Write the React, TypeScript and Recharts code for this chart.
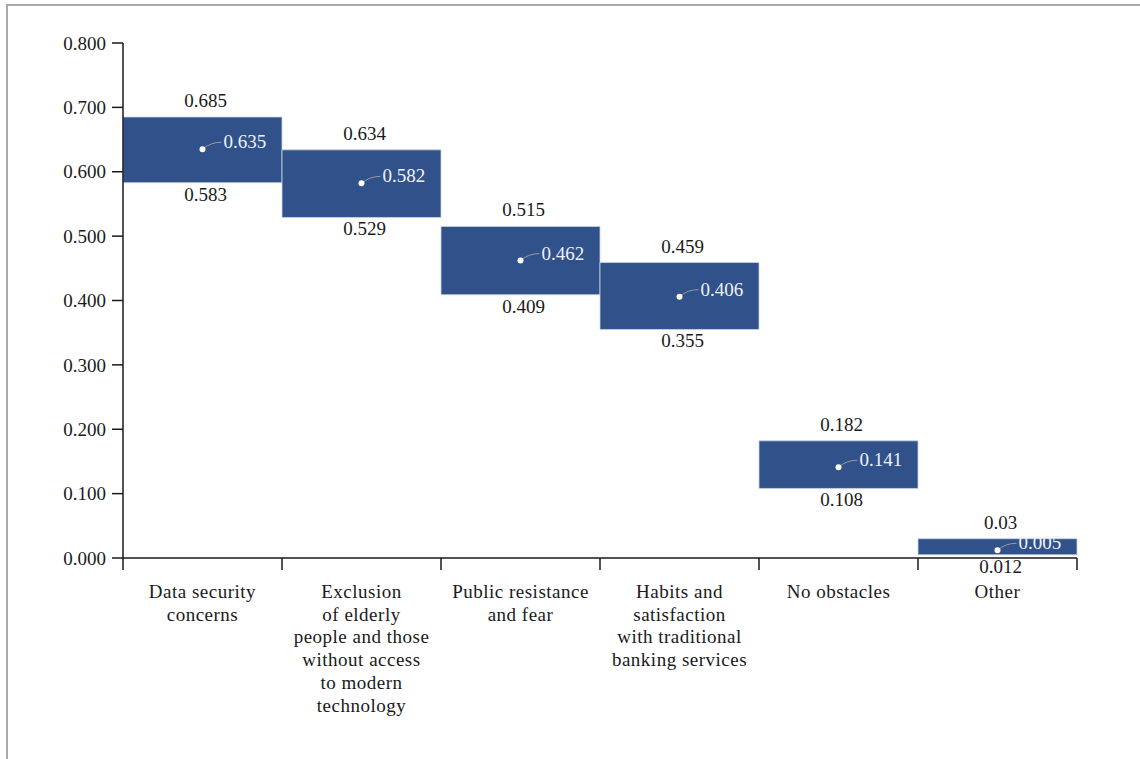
import { ComposedChart, Bar, Scatter, XAxis, YAxis, LabelList } from 'recharts'

// obstacle categories (wrapped as in the source)
const categories = [
  ['Data security', 'concerns'],
  ['Exclusion', 'of elderly', 'people and those', 'without access', 'to modern', 'technology'],
  ['Public resistance', 'and fear'],
  ['Habits and', 'satisfaction', 'with traditional', 'banking services'],
  ['No obstacles'],
  ['Other'],
]

const lowValues = [0.583, 0.529, 0.409, 0.355, 0.108, 0.005]
const midValues = [0.635, 0.582, 0.462, 0.406, 0.141, 0.012]
const highValues = [0.685, 0.634, 0.515, 0.459, 0.182, 0.03]

// printed labels (the "Other" column prints them as in the source)
const topLabels = ['0.685', '0.634', '0.515', '0.459', '0.182', '0.03']
const midLabels = ['0.635', '0.582', '0.462', '0.406', '0.141', '0.005']
const bottomLabels = ['0.583', '0.529', '0.409', '0.355', '0.108', '0.012']

const yTicks = [0, 0.1, 0.2, 0.3, 0.4, 0.5, 0.6, 0.7, 0.8]

const W = 1140
const H = 759
const MARGIN = { top: 43, right: 63, bottom: 0, left: 63 }
const Y_AXIS_W = 60
const HALF_BAND = (W - MARGIN.left - Y_AXIS_W - MARGIN.right) / categories.length / 2

const FONT = '"Liberation Serif", "Times New Roman", serif'
const FS = 19
const BAR_FILL = '#31518a'
const TEXT = '#1a1a1a'

const data = categories.map((c, i) => ({
  name: c.join(' '),
  lines: c,
  range: [lowValues[i], highValues[i]],
  mid: midValues[i],
}))

const TopLabel = (props: any) => {
  const { x, y, width, height, index } = props
  const top = Math.min(y, y + height)
  return (
    <text x={x + width / 2 + 3} y={top - 10} textAnchor="middle" fontFamily={FONT} fontSize={FS} fill={TEXT}>
      {topLabels[index]}
    </text>
  )
}

const BottomLabel = (props: any) => {
  const { x, y, width, height, index } = props
  const bottom = Math.max(y, y + height)
  return (
    <text x={x + width / 2 + 3} y={bottom + 18} textAnchor="middle" fontFamily={FONT} fontSize={FS} fill={TEXT}>
      {bottomLabels[index]}
    </text>
  )
}

const MidDot = (props: any) => {
  const { cx, cy, index } = props
  if (cx == null || cy == null) return <g />
  return (
    <g>
      <path
        d={`M${cx} ${cy} Q${cx + 8} ${cy - 7} ${cx + 19} ${cy - 7}`}
        fill="none"
        stroke="#9a9a9a"
        strokeWidth={1}
      />
      <circle cx={cx} cy={cy} r={3} fill="#ffffff" />
      <text x={cx + 21} y={cy - 1} fontFamily={FONT} fontSize={FS} fill="#eef2f8">
        {midLabels[index]}
      </text>
    </g>
  )
}

const CategoryTick = (props: any) => {
  const { x, y, payload, index } = props
  const half = payload?.offset > 0 ? payload.offset : HALF_BAND
  const lines = categories[index] ?? [String(payload.value)]
  return (
    <g>
      <line x1={x - half} y1={y} x2={x - half} y2={y + 12} stroke={TEXT} strokeWidth={1.5} />
      {index === categories.length - 1 && (
        <line x1={x + half} y1={y} x2={x + half} y2={y + 12} stroke={TEXT} strokeWidth={1.5} />
      )}
      <text textAnchor="middle" fontFamily={FONT} fontSize={FS} fill={TEXT} letterSpacing={0.5}>
        {lines.map((l: string, i: number) => (
          <tspan key={i} x={x} y={y + 40 + i * 22.7}>
            {l}
          </tspan>
        ))}
      </text>
    </g>
  )
}

export default function App() {
  return (
    <div style={{ position: 'fixed', left: 0, top: 0, width: W, height: H, background: '#fff' }}>
      <div
        style={{
          position: 'absolute',
          left: 6,
          top: 4,
          width: W - 6,
          height: H - 4,
          boxSizing: 'border-box',
          borderTop: '2px solid #a9a9a9',
          borderLeft: '2px solid #a9a9a9',
        }}
      />
      <div style={{ position: 'absolute', left: 0, top: 0 }}>
        <ComposedChart width={W} height={H} data={data} margin={MARGIN} barCategoryGap={0} barGap={0}>
          <XAxis
            dataKey="name"
            interval={0}
            height={H - 558 - MARGIN.bottom}
            tickLine={false}
            tickSize={0}
            tickMargin={0}
            axisLine={{ stroke: TEXT, strokeWidth: 1.5 }}
            tick={<CategoryTick />}
          />
          <YAxis
            type="number"
            domain={[0, 0.8]}
            ticks={yTicks}
            width={Y_AXIS_W}
            tickSize={11}
            tickMargin={6}
            tickFormatter={(v: number) => v.toFixed(3)}
            tick={{ fill: TEXT, fontSize: FS, fontFamily: FONT }}
            tickLine={{ stroke: TEXT, strokeWidth: 1.5 }}
            axisLine={{ stroke: TEXT, strokeWidth: 1.5 }}
          />
          <Bar dataKey="range" fill={BAR_FILL} stroke="#c9d4e6" strokeWidth={0.8} isAnimationActive={false}>
            <LabelList dataKey="range" content={<TopLabel />} />
            <LabelList dataKey="range" content={<BottomLabel />} />
          </Bar>
          <Scatter dataKey="mid" shape={<MidDot />} isAnimationActive={false} />
        </ComposedChart>
      </div>
    </div>
  )
}
